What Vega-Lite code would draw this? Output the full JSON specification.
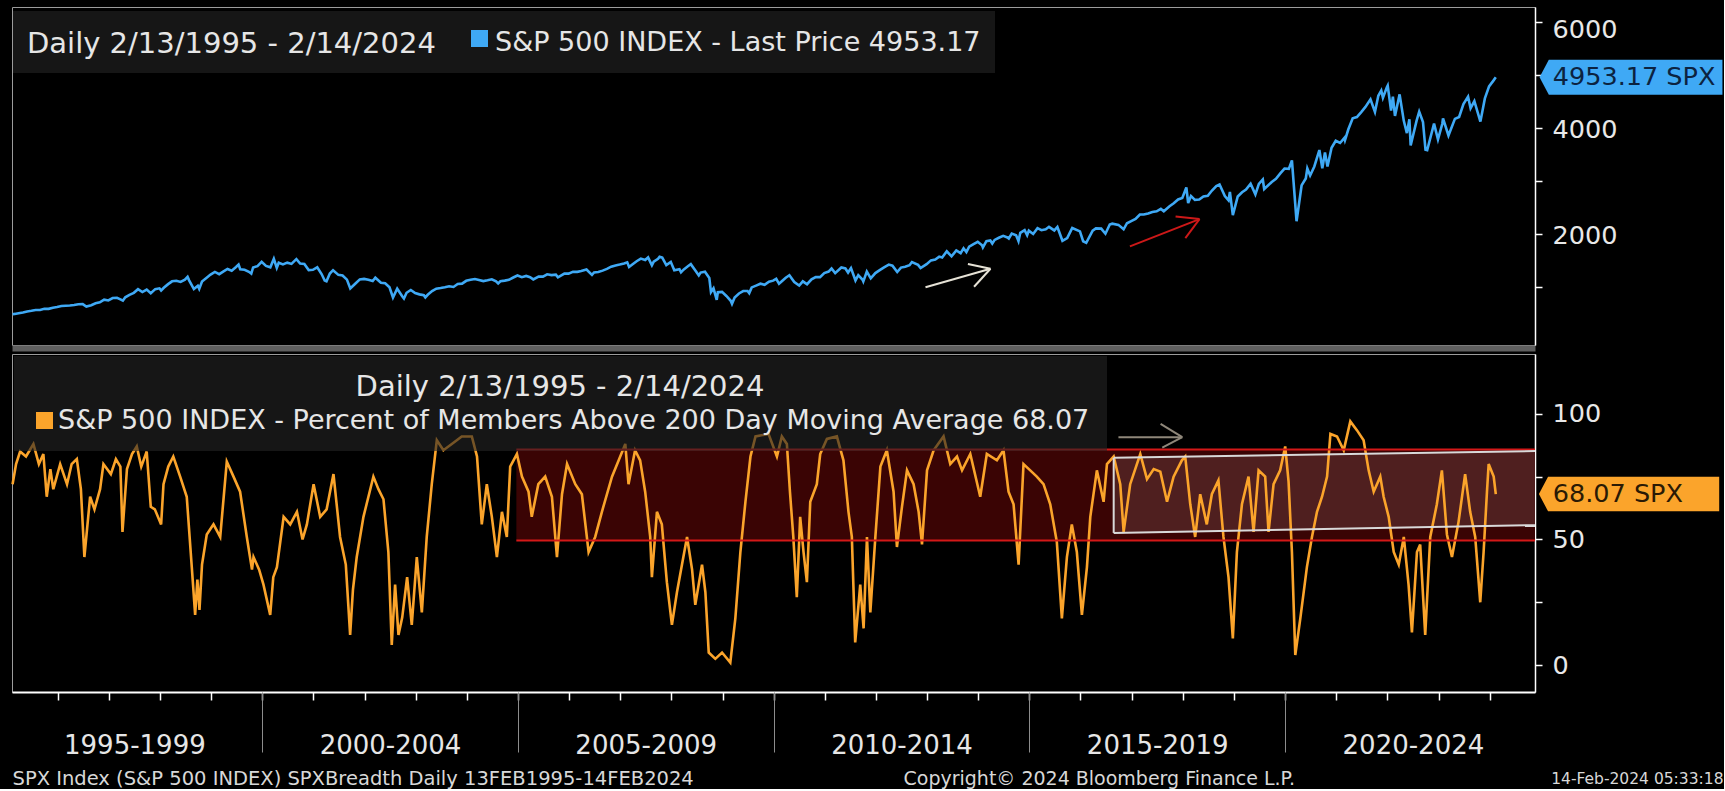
{
"$schema": "https://vega.github.io/schema/vega-lite/v6.json",
"background": "#000000",
"padding": {"left": 6, "top": 6, "right": 0, "bottom": 0},
"spacing": 4,
"config": {
"font": "DejaVu Sans",
"view": {"stroke": "#9c9c9c", "strokeWidth": 1},
"axis": {"grid": false, "labelFont": "DejaVu Sans", "titleFont": "DejaVu Sans"},
"legend": {"labelFont": "DejaVu Sans", "titleFont": "DejaVu Sans"},
"concat": {"spacing": 4}
},
"datasets": {
"spx": [
{"d":"1995-02-13","v":482},{"d":"1995-02-28","v":487},{"d":"1995-03-28","v":501},{"d":"1995-04-28","v":515},{"d":"1995-05-28","v":533},{"d":"1995-06-28","v":545},{"d":"1995-07-28","v":562},{"d":"1995-08-28","v":561},{"d":"1995-09-28","v":584},{"d":"1995-10-28","v":582},{"d":"1995-11-28","v":605},{"d":"1995-12-28","v":616},
{"d":"1996-01-28","v":636},{"d":"1996-02-28","v":640},{"d":"1996-03-28","v":645},{"d":"1996-04-28","v":654},{"d":"1996-05-28","v":669},{"d":"1996-06-28","v":671},{"d":"1996-07-24","v":626},{"d":"1996-08-28","v":652},{"d":"1996-09-28","v":687},{"d":"1996-10-28","v":705},{"d":"1996-11-28","v":757},{"d":"1996-12-28","v":741},
{"d":"1997-01-28","v":786},{"d":"1997-02-28","v":791},{"d":"1997-03-28","v":757},{"d":"1997-04-11","v":737},{"d":"1997-04-28","v":801},{"d":"1997-05-28","v":848},{"d":"1997-06-28","v":885},{"d":"1997-07-28","v":954},{"d":"1997-08-28","v":899},{"d":"1997-09-28","v":947},{"d":"1997-10-27","v":877},{"d":"1997-11-28","v":955},{"d":"1997-12-28","v":970},
{"d":"1998-01-09","v":927},{"d":"1998-01-28","v":980},{"d":"1998-02-28","v":1049},{"d":"1998-03-28","v":1102},{"d":"1998-04-28","v":1112},{"d":"1998-05-28","v":1091},{"d":"1998-06-28","v":1134},{"d":"1998-07-17","v":1187},{"d":"1998-07-28","v":1121},{"d":"1998-08-31","v":957},{"d":"1998-09-28","v":1017},{"d":"1998-10-08","v":959},{"d":"1998-10-28","v":1099},{"d":"1998-11-28","v":1164},{"d":"1998-12-28","v":1229},
{"d":"1999-01-28","v":1280},{"d":"1999-02-28","v":1238},{"d":"1999-03-28","v":1286},{"d":"1999-04-28","v":1335},{"d":"1999-05-28","v":1302},{"d":"1999-06-28","v":1373},{"d":"1999-07-16","v":1418},{"d":"1999-07-28","v":1329},{"d":"1999-08-28","v":1320},{"d":"1999-09-28","v":1283},{"d":"1999-10-15","v":1247},{"d":"1999-10-28","v":1363},{"d":"1999-11-28","v":1389},{"d":"1999-12-28","v":1469},
{"d":"2000-01-28","v":1394},{"d":"2000-02-28","v":1366},{"d":"2000-03-24","v":1527},{"d":"2000-04-14","v":1357},{"d":"2000-04-28","v":1452},{"d":"2000-05-28","v":1421},{"d":"2000-06-28","v":1455},{"d":"2000-07-28","v":1431},{"d":"2000-09-01","v":1521},{"d":"2000-09-28","v":1437},{"d":"2000-10-28","v":1429},{"d":"2000-11-28","v":1315},{"d":"2000-12-28","v":1320},
{"d":"2001-01-28","v":1366},{"d":"2001-02-28","v":1240},{"d":"2001-03-22","v":1118},{"d":"2001-04-04","v":1104},{"d":"2001-04-28","v":1249},{"d":"2001-05-21","v":1312},{"d":"2001-06-28","v":1224},{"d":"2001-07-28","v":1211},{"d":"2001-08-28","v":1134},{"d":"2001-09-21","v":966},{"d":"2001-10-28","v":1060},{"d":"2001-11-28","v":1139},{"d":"2001-12-28","v":1148},
{"d":"2002-01-28","v":1130},{"d":"2002-02-28","v":1107},{"d":"2002-03-19","v":1170},{"d":"2002-04-28","v":1076},{"d":"2002-05-28","v":1067},{"d":"2002-06-28","v":990},{"d":"2002-07-23","v":797},{"d":"2002-08-22","v":962},{"d":"2002-09-28","v":815},{"d":"2002-10-09","v":777},{"d":"2002-10-28","v":886},{"d":"2002-11-27","v":938},{"d":"2002-12-28","v":880},
{"d":"2003-01-28","v":856},{"d":"2003-02-28","v":841},{"d":"2003-03-11","v":800},{"d":"2003-03-28","v":848},{"d":"2003-04-28","v":917},{"d":"2003-05-28","v":964},{"d":"2003-06-28","v":975},{"d":"2003-07-28","v":990},{"d":"2003-08-28","v":1008},{"d":"2003-09-28","v":996},{"d":"2003-10-28","v":1051},{"d":"2003-11-28","v":1058},{"d":"2003-12-28","v":1112},
{"d":"2004-01-28","v":1131},{"d":"2004-02-28","v":1145},{"d":"2004-03-28","v":1126},{"d":"2004-04-28","v":1107},{"d":"2004-05-28","v":1121},{"d":"2004-06-28","v":1141},{"d":"2004-07-28","v":1102},{"d":"2004-08-12","v":1064},{"d":"2004-08-28","v":1104},{"d":"2004-09-28","v":1115},{"d":"2004-10-28","v":1130},{"d":"2004-11-28","v":1174},{"d":"2004-12-28","v":1212},
{"d":"2005-01-28","v":1181},{"d":"2005-02-28","v":1204},{"d":"2005-03-28","v":1181},{"d":"2005-04-20","v":1138},{"d":"2005-05-28","v":1192},{"d":"2005-06-28","v":1191},{"d":"2005-07-28","v":1234},{"d":"2005-08-28","v":1220},{"d":"2005-09-28","v":1229},{"d":"2005-10-13","v":1177},{"d":"2005-11-28","v":1249},{"d":"2005-12-28","v":1248},
{"d":"2006-01-28","v":1280},{"d":"2006-02-28","v":1281},{"d":"2006-03-28","v":1295},{"d":"2006-05-05","v":1326},{"d":"2006-06-13","v":1223},{"d":"2006-06-28","v":1270},{"d":"2006-07-28","v":1277},{"d":"2006-08-28","v":1304},{"d":"2006-09-28","v":1336},{"d":"2006-10-28","v":1378},{"d":"2006-11-28","v":1401},{"d":"2006-12-28","v":1418},
{"d":"2007-01-28","v":1438},{"d":"2007-02-20","v":1460},{"d":"2007-03-05","v":1374},{"d":"2007-03-28","v":1421},{"d":"2007-04-28","v":1482},{"d":"2007-05-28","v":1531},{"d":"2007-06-28","v":1503},{"d":"2007-07-19","v":1553},{"d":"2007-08-15","v":1406},{"d":"2007-08-28","v":1474},{"d":"2007-09-28","v":1527},{"d":"2007-10-09","v":1565},{"d":"2007-10-28","v":1549},{"d":"2007-11-26","v":1407},{"d":"2007-12-28","v":1468},
{"d":"2008-01-22","v":1310},{"d":"2008-02-28","v":1331},{"d":"2008-03-10","v":1273},{"d":"2008-03-28","v":1323},{"d":"2008-04-28","v":1386},{"d":"2008-05-19","v":1426},{"d":"2008-06-28","v":1280},{"d":"2008-07-15","v":1214},{"d":"2008-07-28","v":1267},{"d":"2008-08-28","v":1283},{"d":"2008-09-28","v":1166},{"d":"2008-10-10","v":899},{"d":"2008-10-28","v":969},{"d":"2008-11-20","v":752},{"d":"2008-11-28","v":896},{"d":"2008-12-28","v":903},
{"d":"2009-01-28","v":826},{"d":"2009-02-28","v":735},{"d":"2009-03-09","v":677},{"d":"2009-03-28","v":798},{"d":"2009-04-28","v":873},{"d":"2009-05-28","v":919},{"d":"2009-06-28","v":919},{"d":"2009-07-10","v":879},{"d":"2009-07-28","v":987},{"d":"2009-08-28","v":1021},{"d":"2009-09-28","v":1057},{"d":"2009-10-28","v":1036},{"d":"2009-11-28","v":1096},{"d":"2009-12-28","v":1115},
{"d":"2010-01-19","v":1150},{"d":"2010-02-08","v":1056},{"d":"2010-02-28","v":1104},{"d":"2010-03-28","v":1169},{"d":"2010-04-23","v":1217},{"d":"2010-05-28","v":1089},{"d":"2010-07-02","v":1022},{"d":"2010-07-28","v":1102},{"d":"2010-08-27","v":1047},{"d":"2010-09-28","v":1141},{"d":"2010-10-28","v":1183},{"d":"2010-11-28","v":1181},{"d":"2010-12-28","v":1258},
{"d":"2011-01-28","v":1286},{"d":"2011-02-18","v":1343},{"d":"2011-03-16","v":1256},{"d":"2011-04-29","v":1364},{"d":"2011-05-28","v":1345},{"d":"2011-06-16","v":1268},{"d":"2011-07-07","v":1353},{"d":"2011-08-08","v":1119},{"d":"2011-08-28","v":1219},{"d":"2011-09-28","v":1131},{"d":"2011-10-03","v":1099},{"d":"2011-10-28","v":1285},{"d":"2011-11-25","v":1159},{"d":"2011-12-28","v":1258},
{"d":"2012-01-28","v":1312},{"d":"2012-02-28","v":1366},{"d":"2012-04-02","v":1419},{"d":"2012-04-28","v":1398},{"d":"2012-06-01","v":1278},{"d":"2012-06-28","v":1362},{"d":"2012-07-28","v":1379},{"d":"2012-08-28","v":1407},{"d":"2012-09-14","v":1466},{"d":"2012-10-28","v":1412},{"d":"2012-11-15","v":1353},{"d":"2012-12-28","v":1426},
{"d":"2013-01-28","v":1498},{"d":"2013-02-28","v":1515},{"d":"2013-03-28","v":1569},{"d":"2013-04-18","v":1552},{"d":"2013-05-21","v":1669},{"d":"2013-06-24","v":1573},{"d":"2013-07-28","v":1686},{"d":"2013-08-28","v":1633},{"d":"2013-09-18","v":1725},{"d":"2013-10-08","v":1656},{"d":"2013-10-28","v":1757},{"d":"2013-11-28","v":1806},{"d":"2013-12-28","v":1848},
{"d":"2014-01-28","v":1783},{"d":"2014-02-03","v":1742},{"d":"2014-02-28","v":1859},{"d":"2014-03-28","v":1872},{"d":"2014-04-11","v":1815},{"d":"2014-04-28","v":1884},{"d":"2014-05-28","v":1924},{"d":"2014-06-28","v":1960},{"d":"2014-07-28","v":1931},{"d":"2014-08-07","v":1910},{"d":"2014-08-28","v":2003},{"d":"2014-09-28","v":1972},{"d":"2014-10-15","v":1862},{"d":"2014-10-28","v":2018},{"d":"2014-11-28","v":2068},{"d":"2014-12-16","v":1972},{"d":"2014-12-28","v":2059},
{"d":"2015-01-28","v":1995},{"d":"2015-02-28","v":2105},{"d":"2015-03-28","v":2068},{"d":"2015-04-28","v":2086},{"d":"2015-05-21","v":2131},{"d":"2015-06-28","v":2063},{"d":"2015-07-20","v":2128},{"d":"2015-08-25","v":1867},{"d":"2015-09-28","v":1920},{"d":"2015-10-28","v":2079},{"d":"2015-11-03","v":2109},{"d":"2015-12-28","v":2044},
{"d":"2016-01-20","v":1859},{"d":"2016-02-11","v":1829},{"d":"2016-03-28","v":2060},{"d":"2016-04-20","v":2102},{"d":"2016-05-28","v":2097},{"d":"2016-06-27","v":2001},{"d":"2016-07-28","v":2174},{"d":"2016-08-15","v":2190},{"d":"2016-09-28","v":2168},{"d":"2016-11-04","v":2085},{"d":"2016-11-28","v":2199},{"d":"2016-12-28","v":2239},
{"d":"2017-01-28","v":2279},{"d":"2017-02-28","v":2364},{"d":"2017-03-28","v":2363},{"d":"2017-04-28","v":2384},{"d":"2017-05-28","v":2412},{"d":"2017-06-28","v":2423},{"d":"2017-07-28","v":2470},{"d":"2017-08-18","v":2426},{"d":"2017-09-28","v":2519},{"d":"2017-10-28","v":2575},{"d":"2017-11-28","v":2648},{"d":"2017-12-28","v":2674},
{"d":"2018-01-26","v":2873},{"d":"2018-02-08","v":2581},{"d":"2018-02-28","v":2714},{"d":"2018-03-28","v":2641},{"d":"2018-04-28","v":2648},{"d":"2018-05-28","v":2705},{"d":"2018-06-28","v":2718},{"d":"2018-07-28","v":2816},{"d":"2018-08-28","v":2902},{"d":"2018-09-20","v":2931},{"d":"2018-10-28","v":2712},{"d":"2018-11-23","v":2633},{"d":"2018-12-03","v":2790},{"d":"2018-12-24","v":2351},
{"d":"2019-01-28","v":2704},{"d":"2019-02-28","v":2784},{"d":"2019-03-28","v":2834},{"d":"2019-04-30","v":2946},{"d":"2019-06-03","v":2744},{"d":"2019-06-28","v":2942},{"d":"2019-07-26","v":3025},{"d":"2019-08-05","v":2844},{"d":"2019-09-28","v":2977},{"d":"2019-10-28","v":3038},{"d":"2019-11-28","v":3141},{"d":"2019-12-28","v":3231},
{"d":"2020-01-28","v":3226},{"d":"2020-02-19","v":3386},{"d":"2020-03-23","v":2237},{"d":"2020-04-28","v":2912},{"d":"2020-05-28","v":3044},{"d":"2020-06-08","v":3232},{"d":"2020-06-28","v":3100},{"d":"2020-07-28","v":3271},{"d":"2020-09-02","v":3580},{"d":"2020-09-23","v":3237},{"d":"2020-10-12","v":3534},{"d":"2020-10-30","v":3270},{"d":"2020-11-28","v":3622},{"d":"2020-12-28","v":3756},
{"d":"2021-01-28","v":3714},{"d":"2021-02-28","v":3811},{"d":"2021-03-04","v":3768},{"d":"2021-03-28","v":3973},{"d":"2021-04-28","v":4181},{"d":"2021-05-28","v":4204},{"d":"2021-06-28","v":4298},{"d":"2021-07-28","v":4395},{"d":"2021-09-02","v":4537},{"d":"2021-10-04","v":4300},{"d":"2021-10-28","v":4605},{"d":"2021-11-18","v":4705},{"d":"2021-11-30","v":4567},{"d":"2021-12-28","v":4766},
{"d":"2022-01-03","v":4797},{"d":"2022-01-27","v":4326},{"d":"2022-02-09","v":4587},{"d":"2022-02-24","v":4225},{"d":"2022-03-29","v":4632},{"d":"2022-04-28","v":4132},{"d":"2022-05-20","v":3901},{"d":"2022-06-07","v":4160},{"d":"2022-06-16","v":3667},{"d":"2022-07-28","v":4130},{"d":"2022-08-16","v":4305},{"d":"2022-09-12","v":4110},{"d":"2022-09-30","v":3586},{"d":"2022-10-12","v":3577},{"d":"2022-11-30","v":4080},{"d":"2022-12-28","v":3783},
{"d":"2023-01-28","v":4077},{"d":"2023-02-02","v":4179},{"d":"2023-03-13","v":3855},{"d":"2023-04-28","v":4169},{"d":"2023-05-28","v":4205},{"d":"2023-06-28","v":4450},{"d":"2023-07-31","v":4589},{"d":"2023-08-18","v":4370},{"d":"2023-09-14","v":4505},{"d":"2023-10-27","v":4117},{"d":"2023-11-28","v":4555},{"d":"2023-12-28","v":4783},
{"d":"2024-01-28","v":4891},{"d":"2024-02-14","v":4953.17}
],
"breadth": [
{"d":"1995-02-13","v":72},{"d":"1995-03-10","v":80},{"d":"1995-04-08","v":85},{"d":"1995-05-20","v":83},{"d":"1995-07-12","v":88},{"d":"1995-08-20","v":80},{"d":"1995-09-21","v":84},{"d":"1995-10-15","v":67},{"d":"1995-11-10","v":78},{"d":"1995-12-01","v":70},
{"d":"1996-01-19","v":80},{"d":"1996-03-08","v":72},{"d":"1996-04-10","v":80},{"d":"1996-05-17","v":82},{"d":"1996-06-15","v":70},{"d":"1996-07-10","v":43},{"d":"1996-08-20","v":67},{"d":"1996-09-20","v":62},{"d":"1996-10-30","v":70},{"d":"1996-11-23","v":80},
{"d":"1997-01-15","v":76},{"d":"1997-02-20","v":82},{"d":"1997-03-24","v":79},{"d":"1997-04-08","v":53},{"d":"1997-05-10","v":78},{"d":"1997-06-15","v":84},{"d":"1997-07-19","v":87},{"d":"1997-08-20","v":79},{"d":"1997-09-28","v":85},{"d":"1997-10-27","v":63},{"d":"1997-11-25","v":62},
{"d":"1998-01-09","v":56},{"d":"1998-01-26","v":72},{"d":"1998-03-01","v":79},{"d":"1998-04-06","v":83},{"d":"1998-05-25","v":75},{"d":"1998-07-11","v":67},{"d":"1998-08-16","v":39},{"d":"1998-09-09","v":20},{"d":"1998-09-25","v":34},{"d":"1998-10-10","v":22},{"d":"1998-10-28","v":40},{"d":"1998-12-01","v":52},
{"d":"1999-01-18","v":56},{"d":"1999-03-07","v":51},{"d":"1999-04-23","v":81},{"d":"1999-06-10","v":75},{"d":"1999-07-27","v":69},{"d":"1999-09-13","v":51},{"d":"1999-10-20","v":38},{"d":"1999-10-31","v":43},{"d":"1999-12-10","v":38},
{"d":"2000-01-10","v":32},{"d":"2000-02-27","v":20},{"d":"2000-03-20","v":35},{"d":"2000-04-15","v":39},{"d":"2000-06-02","v":59},{"d":"2000-07-19","v":56},{"d":"2000-09-05","v":61},{"d":"2000-10-15","v":50},{"d":"2000-11-15","v":56},
{"d":"2001-01-02","v":72},{"d":"2001-02-18","v":59},{"d":"2001-04-05","v":62},{"d":"2001-05-24","v":76},{"d":"2001-07-10","v":51},{"d":"2001-08-20","v":40},{"d":"2001-09-20","v":12},{"d":"2001-10-10","v":30},{"d":"2001-11-06","v":43},{"d":"2001-12-24","v":59},
{"d":"2002-03-05","v":75},{"d":"2002-04-10","v":70},{"d":"2002-05-16","v":66},{"d":"2002-06-20","v":45},{"d":"2002-07-14","v":8},{"d":"2002-08-07","v":32},{"d":"2002-08-31","v":12},{"d":"2002-09-27","v":19},{"d":"2002-11-01","v":35},{"d":"2002-12-04","v":16},
{"d":"2003-01-09","v":43},{"d":"2003-02-14","v":21},{"d":"2003-03-21","v":51},{"d":"2003-04-26","v":72},{"d":"2003-06-01","v":89.5},{"d":"2003-07-18","v":85.5},{"d":"2003-09-16","v":88},{"d":"2003-11-26","v":91},
{"d":"2004-02-06","v":91},{"d":"2004-03-14","v":83},{"d":"2004-04-17","v":56},{"d":"2004-05-23","v":72},{"d":"2004-06-28","v":59},{"d":"2004-08-03","v":43},{"d":"2004-09-08","v":61},{"d":"2004-10-13","v":51},{"d":"2004-11-06","v":79},{"d":"2004-12-24","v":84},
{"d":"2005-01-29","v":75},{"d":"2005-03-17","v":69},{"d":"2005-04-09","v":59},{"d":"2005-05-26","v":72},{"d":"2005-07-14","v":75},{"d":"2005-08-31","v":67},{"d":"2005-10-06","v":43},{"d":"2005-11-11","v":68},{"d":"2005-12-17","v":80},
{"d":"2006-02-14","v":72},{"d":"2006-04-02","v":68},{"d":"2006-05-20","v":45},{"d":"2006-07-06","v":51},{"d":"2006-08-23","v":61},{"d":"2006-11-03","v":75},{"d":"2006-12-21","v":81.5},
{"d":"2007-02-06","v":88},{"d":"2007-03-01","v":72},{"d":"2007-04-17","v":85.5},{"d":"2007-05-23","v":81.5},{"d":"2007-06-28","v":69},{"d":"2007-08-03","v":51},{"d":"2007-08-15","v":35},{"d":"2007-09-20","v":61},{"d":"2007-10-25","v":56},{"d":"2007-11-30","v":33},
{"d":"2008-01-05","v":16},{"d":"2008-02-10","v":29},{"d":"2008-03-17","v":40},{"d":"2008-04-22","v":51},{"d":"2008-05-28","v":38},{"d":"2008-06-20","v":24},{"d":"2008-08-07","v":40},{"d":"2008-08-31","v":29},{"d":"2008-09-24","v":5},{"d":"2008-11-10","v":2.5},{"d":"2008-12-28","v":5},
{"d":"2009-02-25","v":1},{"d":"2009-04-02","v":18.6},{"d":"2009-05-08","v":45},{"d":"2009-06-13","v":65},{"d":"2009-07-19","v":83},{"d":"2009-08-24","v":91},{"d":"2009-11-25","v":92},
{"d":"2010-01-24","v":83},{"d":"2010-02-28","v":91},{"d":"2010-04-05","v":88},{"d":"2010-04-27","v":69},{"d":"2010-05-21","v":51},{"d":"2010-06-15","v":27},{"d":"2010-07-09","v":59},{"d":"2010-08-02","v":45},{"d":"2010-08-26","v":33},{"d":"2010-09-19","v":65},{"d":"2010-11-05","v":72},{"d":"2010-11-29","v":84},
{"d":"2011-01-16","v":90},{"d":"2011-03-28","v":91},{"d":"2011-05-14","v":81.5},{"d":"2011-06-19","v":61},{"d":"2011-07-13","v":51},{"d":"2011-08-06","v":9},{"d":"2011-09-11","v":32},{"d":"2011-10-05","v":14.6},{"d":"2011-10-29","v":51},{"d":"2011-11-22","v":21},{"d":"2011-12-28","v":51},
{"d":"2012-02-02","v":79},{"d":"2012-03-19","v":85.5},{"d":"2012-05-06","v":69},{"d":"2012-05-30","v":47},{"d":"2012-07-05","v":63},{"d":"2012-08-10","v":77.5},{"d":"2012-09-26","v":72},{"d":"2012-11-01","v":61},{"d":"2012-11-25","v":48},{"d":"2012-12-31","v":77.5},
{"d":"2013-02-16","v":85.5},{"d":"2013-04-28","v":91},{"d":"2013-06-15","v":80},{"d":"2013-08-02","v":83},{"d":"2013-09-07","v":77.5},{"d":"2013-11-05","v":84},
{"d":"2014-01-15","v":67},{"d":"2014-03-03","v":84},{"d":"2014-05-14","v":81.5},{"d":"2014-06-30","v":85.5},{"d":"2014-08-05","v":69},{"d":"2014-09-10","v":64},{"d":"2014-10-16","v":40},{"d":"2014-11-20","v":80},
{"d":"2015-01-07","v":77.5},{"d":"2015-02-23","v":75},{"d":"2015-04-12","v":72},{"d":"2015-05-30","v":64},{"d":"2015-07-16","v":49},{"d":"2015-08-21","v":18.6},{"d":"2015-09-26","v":43},{"d":"2015-10-31","v":56},{"d":"2015-12-06","v":45},
{"d":"2016-01-11","v":20},{"d":"2016-02-16","v":39},{"d":"2016-03-11","v":59},{"d":"2016-04-27","v":77.5},{"d":"2016-06-14","v":65},{"d":"2016-07-08","v":80},{"d":"2016-08-25","v":83},{"d":"2016-10-11","v":72},{"d":"2016-11-04","v":53},{"d":"2016-12-21","v":72},
{"d":"2017-03-03","v":84},{"d":"2017-04-20","v":74},{"d":"2017-06-07","v":78},{"d":"2017-07-24","v":77},{"d":"2017-09-10","v":65},{"d":"2017-10-27","v":75},{"d":"2017-12-25","v":81.5},
{"d":"2018-01-18","v":83},{"d":"2018-02-23","v":64},{"d":"2018-03-30","v":51},{"d":"2018-05-05","v":68},{"d":"2018-06-21","v":56},{"d":"2018-07-27","v":68},{"d":"2018-09-12","v":73.5},{"d":"2018-10-18","v":51},{"d":"2018-11-23","v":35},{"d":"2018-12-24","v":10.6},
{"d":"2019-01-22","v":45},{"d":"2019-02-27","v":64},{"d":"2019-04-15","v":75},{"d":"2019-05-21","v":53},{"d":"2019-06-26","v":77.5},{"d":"2019-08-12","v":75},{"d":"2019-09-05","v":53},{"d":"2019-10-11","v":72},{"d":"2019-11-27","v":77.5},
{"d":"2020-01-02","v":87},{"d":"2020-01-26","v":73},{"d":"2020-02-19","v":45},{"d":"2020-03-14","v":4},{"d":"2020-04-19","v":18.6},{"d":"2020-06-05","v":39},{"d":"2020-07-11","v":51},{"d":"2020-08-16","v":61},{"d":"2020-09-21","v":67},{"d":"2020-10-27","v":75},{"d":"2020-11-20","v":92},
{"d":"2021-01-06","v":91},{"d":"2021-02-23","v":85.5},{"d":"2021-04-11","v":97},{"d":"2021-05-28","v":93.5},{"d":"2021-07-15","v":89.5},{"d":"2021-08-20","v":77.5},{"d":"2021-09-25","v":69},{"d":"2021-11-11","v":75},{"d":"2021-12-05","v":67},
{"d":"2022-01-10","v":59},{"d":"2022-02-15","v":45},{"d":"2022-03-23","v":40},{"d":"2022-04-28","v":51},{"d":"2022-06-01","v":32},{"d":"2022-06-25","v":13},{"d":"2022-07-31","v":45},{"d":"2022-08-23","v":48},{"d":"2022-09-28","v":12},{"d":"2022-11-03","v":51},{"d":"2022-12-20","v":64},
{"d":"2023-01-25","v":77.5},{"d":"2023-03-02","v":52},{"d":"2023-04-07","v":43},{"d":"2023-05-24","v":57},{"d":"2023-07-10","v":76},{"d":"2023-08-15","v":61},{"d":"2023-09-20","v":51},{"d":"2023-10-26","v":25},{"d":"2023-11-19","v":45},{"d":"2023-12-13","v":69},{"d":"2023-12-25","v":80},
{"d":"2024-01-30","v":75},{"d":"2024-02-14","v":68.07}
],
"band": [{"d":"2004-12-20","d2":"2024-11-20","v":49.6,"v2":85.8}],
"channel": [{"d":"2016-08-25","v":82.5,"v2":52.6},{"d":"2024-11-20","v":85.2,"v2":55.7}],
"arrows": [
{"a":"white","d":"2012-12-20","v":989,"d2":"2014-03-29","v2":1340},
{"a":"white","d":"2013-10-19","v":1428,"d2":"2014-03-29","v2":1340},
{"a":"white","d":"2013-12-02","v":1000,"d2":"2014-03-29","v2":1340},
{"a":"red","d":"2016-12-19","v":1762,"d2":"2018-04-30","v2":2277},
{"a":"red","d":"2017-11-10","v":2328,"d2":"2018-04-30","v2":2277},
{"a":"red","d":"2018-01-19","v":1919,"d2":"2018-04-30","v2":2277},
{"a":"gray","d":"2016-09-28","v":90.7,"d2":"2017-12-28","v2":90.7},
{"a":"gray","d":"2017-07-26","v":96.0,"d2":"2017-12-28","v2":90.7},
{"a":"gray","d":"2017-08-07","v":86.5,"d2":"2017-12-28","v2":90.7}
]
},
"resolve": {"scale": {"color": "independent"}, "legend": {"color": "independent"}},
"vconcat": [
{
"width": 1523,
"height": 338,
"encoding": {
"x": {"field": "d", "type": "temporal", "scale": {"type": "utc", "nice": false, "domain": [{"year": 1995, "month": 2, "date": 9, "utc": true}, {"year": 2024, "month": 11, "date": 20, "utc": true}]},
"axis": {"orient": "bottom", "offset": 3, "domain": true, "domainColor": "#5f5f5f", "domainWidth": 6, "ticks": false, "labels": false, "title": null}},
"y": {"field": "v", "type": "quantitative", "scale": {"domain": [-100, 6281], "nice": false, "zero": false},
"axis": {"orient": "right", "values": [1000, 2000, 3000, 4000, 5000, 6000], "format": "d", "labelExpr": "datum.value % 2000 == 0 ? datum.label : ''", "tickSize": 7, "tickColor": "#ffffff", "tickWidth": 1.5, "domainColor": "#ffffff", "domainWidth": 1.5, "labelFontSize": 25.5, "labelColor": "#e8e8e8", "labelPadding": 10, "labelBaseline": "middle", "labelOffset": {"condition": {"test": "datum.value == 6000", "value": 8}, "value": 2}, "labelFlush": false, "labelOverlap": false, "title": null}}
},
"layer": [
{
"data": {"name": "spx"},
"mark": {"type": "line", "color": "#3fa9f5", "strokeWidth": 2.6}
},
{
"data": {"name": "arrows"},
"transform": [{"filter": "datum.a == 'white'"}],
"mark": {"type": "rule", "color": "#e6e2d6", "strokeWidth": 2},
"encoding": {"x2": {"field": "d2"}, "y2": {"field": "v2"}}
},
{
"data": {"name": "arrows"},
"transform": [{"filter": "datum.a == 'red'"}],
"mark": {"type": "rule", "color": "#cc1818", "strokeWidth": 2},
"encoding": {"x2": {"field": "d2"}, "y2": {"field": "v2"}}
},
{
"data": {"name": "spx"},
"transform": [{"filter": "utcyear(datum.d) == 2024 && utcmonth(datum.d) == 1 && utcdate(datum.d) == 14"}],
"mark": {"type": "point", "shape": "M2.5,0L3.03,-1L12.95,-1L12.95,1L3.03,1Z", "size": 1225, "filled": true, "opacity": 1, "strokeWidth": 0},
"encoding": {
"color": {"datum": "S&P 500 INDEX - Last Price 4953.17", "type": "nominal", "scale": {"range": ["#3fa9f5"]},
"legend": {"title": "Daily 2/13/1995 - 2/14/2024", "orient": "none", "legendX": 1, "legendY": 4, "titleOrient": "left", "titleFontSize": 29, "titleFontWeight": "normal", "titleColor": "#e6e6e6", "titlePadding": 30, "titleLimit": 3000, "labelFontSize": 27, "labelColor": "#e6e6e6", "labelLimit": 3000, "labelOffset": 2, "symbolType": "square", "symbolSize": 289, "symbolStrokeWidth": 0, "symbolOpacity": 1, "fillColor": "rgba(36,36,36,0.62)", "padding": 14, "zindex": 1,
"encode": {"title": {"update": {"dy": {"value": 4}}}, "labels": {"update": {"dy": {"value": 4}}}}}}
}
},
{
"data": {"name": "spx"},
"transform": [{"filter": "utcyear(datum.d) == 2024 && utcmonth(datum.d) == 1 && utcdate(datum.d) == 14"}],
"mark": {"type": "text", "text": "4953.17 SPX", "align": "left", "baseline": "middle", "dx": 57, "fontSize": 25.5, "font": "DejaVu Sans", "color": "#0c2340"}
}
]
},
{
"width": 1523,
"height": 338,
"resolve": {"axis": {"x": "independent"}},
"encoding": {
"x": {"field": "d", "type": "temporal", "scale": {"type": "utc", "nice": false, "domain": [{"year": 1995, "month": 2, "date": 9, "utc": true}, {"year": 2024, "month": 11, "date": 20, "utc": true}]}, "axis": null},
"y": {"field": "v", "type": "quantitative", "scale": {"domain": [-10.7, 123.8], "nice": false, "zero": false},
"axis": {"orient": "right", "values": [0, 25, 50, 75, 100], "labelExpr": "datum.value % 50 == 0 ? datum.label : ''", "tickSize": 7, "tickColor": "#ffffff", "tickWidth": 1.5, "domainColor": "#ffffff", "domainWidth": 1.5, "labelFontSize": 25.5, "labelColor": "#e8e8e8", "labelPadding": 10, "labelBaseline": "middle", "labelFlush": false, "labelOverlap": false, "title": null}}
},
"layer": [
{
"data": {"name": "band"},
"mark": {"type": "rect", "color": "#3a0404"},
"encoding": {
"x": {"field": "d", "type": "temporal", "scale": {"type": "utc", "nice": false, "domain": [{"year": 1995, "month": 2, "date": 9, "utc": true}, {"year": 2024, "month": 11, "date": 20, "utc": true}]},
"axis": {"orient": "bottom", "values": [{"year":1996,"utc":true},{"year":1997,"utc":true},{"year":1998,"utc":true},{"year":1999,"utc":true},{"year":2000,"utc":true},{"year":2001,"utc":true},{"year":2002,"utc":true},{"year":2003,"utc":true},{"year":2004,"utc":true},{"year":2005,"utc":true},{"year":2006,"utc":true},{"year":2007,"utc":true},{"year":2008,"utc":true},{"year":2009,"utc":true},{"year":2010,"utc":true},{"year":2011,"utc":true},{"year":2012,"utc":true},{"year":2013,"utc":true},{"year":2014,"utc":true},{"year":2015,"utc":true},{"year":2016,"utc":true},{"year":2017,"utc":true},{"year":2018,"utc":true},{"year":2019,"utc":true},{"year":2020,"utc":true},{"year":2021,"utc":true},{"year":2022,"utc":true},{"year":2023,"utc":true},{"year":2024,"utc":true}],
"labels": false, "ticks": true, "tickSize": 8, "tickColor": "#ffffff", "tickWidth": 1.5, "domain": true, "domainColor": "#ffffff", "domainWidth": 2,
"title": "14-Feb-2024 05:33:18", "titleX": 1711, "titleY": 86, "titleAlign": "right", "titleAnchor": null, "titleBaseline": "middle", "titleFontSize": 15.5, "titleFontWeight": "normal", "titleColor": "#d8d8d8"}},
"x2": {"field": "d2"},
"y2": {"field": "v2"}
}
},
{
"data": {"name": "channel"},
"mark": {"type": "area", "color": "#ffffff", "fillOpacity": 0.11},
"encoding": {
"x": {"field": "d", "type": "temporal", "scale": {"type": "utc", "nice": false, "domain": [{"year": 1995, "month": 2, "date": 9, "utc": true}, {"year": 2024, "month": 11, "date": 20, "utc": true}]},
"axis": {"orient": "bottom", "values": [{"year":2000,"utc":true},{"year":2005,"utc":true},{"year":2010,"utc":true},{"year":2015,"utc":true},{"year":2020,"utc":true}],
"labels": false, "ticks": true, "tickSize": 60, "tickColor": "#8c8c8c", "tickWidth": 1, "domain": false,
"title": "Copyright© 2024 Bloomberg Finance L.P.", "titleX": 891, "titleY": 86, "titleAlign": "left", "titleAnchor": null, "titleBaseline": "middle", "titleFontSize": 19, "titleFontWeight": "normal", "titleColor": "#d8d8d8"}},
"y2": {"field": "v2"}
}
},
{
"data": {"name": "breadth"},
"mark": {"type": "line", "color": "#fba42b", "strokeWidth": 2.6},
"encoding": {
"x": {"field": "d", "type": "temporal", "scale": {"type": "utc", "nice": false, "domain": [{"year": 1995, "month": 2, "date": 9, "utc": true}, {"year": 2024, "month": 11, "date": 20, "utc": true}]},
"axis": {"orient": "bottom", "values": [{"year":1997,"month":7,"date":2,"utc":true},{"year":2002,"month":7,"date":2,"utc":true},{"year":2007,"month":7,"date":2,"utc":true},{"year":2012,"month":7,"date":2,"utc":true},{"year":2017,"month":7,"date":2,"utc":true},{"year":2022,"month":7,"date":2,"utc":true}],
"labelExpr": "(utcyear(datum.value) - 2) + '-' + (utcyear(datum.value) + 2)", "ticks": false, "domain": false, "labelFontSize": 26, "labelColor": "#e6e6e6", "labelPadding": 53, "labelBaseline": "middle", "labelFlush": false, "labelOverlap": false,
"title": "SPX Index (S&P 500 INDEX) SPXBreadth  Daily 13FEB1995-14FEB2024", "titleX": 0, "titleY": 86, "titleAlign": "left", "titleAnchor": null, "titleBaseline": "middle", "titleFontSize": 19.5, "titleFontWeight": "normal", "titleColor": "#d8d8d8"}}
}
},
{
"data": {"name": "band"},
"mark": {"type": "rule", "color": "#d41818", "strokeWidth": 2},
"encoding": {"x2": {"field": "d2"}}
},
{
"data": {"name": "band"},
"mark": {"type": "rule", "color": "#d41818", "strokeWidth": 2},
"encoding": {
"x2": {"field": "d2"},
"y": {"field": "v2", "type": "quantitative", "scale": {"domain": [-10.7, 123.8], "nice": false, "zero": false},
"axis": {"orient": "right", "values": [0, 25, 50, 75, 100], "labelExpr": "datum.value % 50 == 0 ? datum.label : ''", "tickSize": 7, "tickColor": "#ffffff", "tickWidth": 1.5, "domainColor": "#ffffff", "domainWidth": 1.5, "labelFontSize": 25.5, "labelColor": "#e8e8e8", "labelPadding": 10, "labelBaseline": "middle", "labelFlush": false, "labelOverlap": false, "title": null}}
}
},
{
"data": {"name": "channel"},
"mark": {"type": "line", "color": "#d9d9d9", "strokeWidth": 2}
},
{
"data": {"name": "channel"},
"mark": {"type": "line", "color": "#d9d9d9", "strokeWidth": 2},
"encoding": {
"y": {"field": "v2", "type": "quantitative", "scale": {"domain": [-10.7, 123.8], "nice": false, "zero": false},
"axis": {"orient": "right", "values": [0, 25, 50, 75, 100], "labelExpr": "datum.value % 50 == 0 ? datum.label : ''", "tickSize": 7, "tickColor": "#ffffff", "tickWidth": 1.5, "domainColor": "#ffffff", "domainWidth": 1.5, "labelFontSize": 25.5, "labelColor": "#e8e8e8", "labelPadding": 10, "labelBaseline": "middle", "labelFlush": false, "labelOverlap": false, "title": null}}
}
},
{
"data": {"name": "channel"},
"transform": [{"filter": "utcyear(datum.d) == 2016"}],
"mark": {"type": "rule", "color": "#d9d9d9", "strokeWidth": 2},
"encoding": {"y2": {"field": "v2"}}
},
{
"data": {"name": "arrows"},
"transform": [{"filter": "datum.a == 'gray'"}],
"mark": {"type": "rule", "color": "#8f877a", "strokeWidth": 2},
"encoding": {"x2": {"field": "d2"}, "y2": {"field": "v2"}}
},
{
"data": {"name": "breadth"},
"transform": [{"filter": "utcyear(datum.d) == 2024 && utcmonth(datum.d) == 1 && utcdate(datum.d) == 14"}],
"mark": {"type": "point", "shape": "M2.5,0L3.03,-1L12.95,-1L12.95,1L3.03,1Z", "size": 1190, "filled": true, "opacity": 1, "strokeWidth": 0},
"encoding": {
"color": {"datum": "S&P 500 INDEX - Percent of Members Above 200 Day Moving Average 68.07", "type": "nominal", "scale": {"range": ["#fba42b"]},
"legend": {"title": "Daily 2/13/1995 - 2/14/2024", "orient": "top-left", "offset": 2, "titleOrient": "top", "titleAnchor": "middle", "titleFontSize": 29, "titleFontWeight": "normal", "titleColor": "#e6e6e6", "titlePadding": 5, "titleLimit": 3000, "labelFontSize": 27, "labelColor": "#e6e6e6", "labelLimit": 3000, "labelOffset": 0, "symbolType": "square", "symbolSize": 289, "symbolStrokeWidth": 0, "symbolOpacity": 1, "fillColor": "rgba(36,36,36,0.62)", "padding": 17, "zindex": 1}}
}
},
{
"data": {"name": "breadth"},
"transform": [{"filter": "utcyear(datum.d) == 2024 && utcmonth(datum.d) == 1 && utcdate(datum.d) == 14"}],
"mark": {"type": "text", "text": "68.07 SPX", "align": "left", "baseline": "middle", "dx": 57, "fontSize": 25.5, "font": "DejaVu Sans", "color": "#2a1a05"}
}
]
}
]
}
